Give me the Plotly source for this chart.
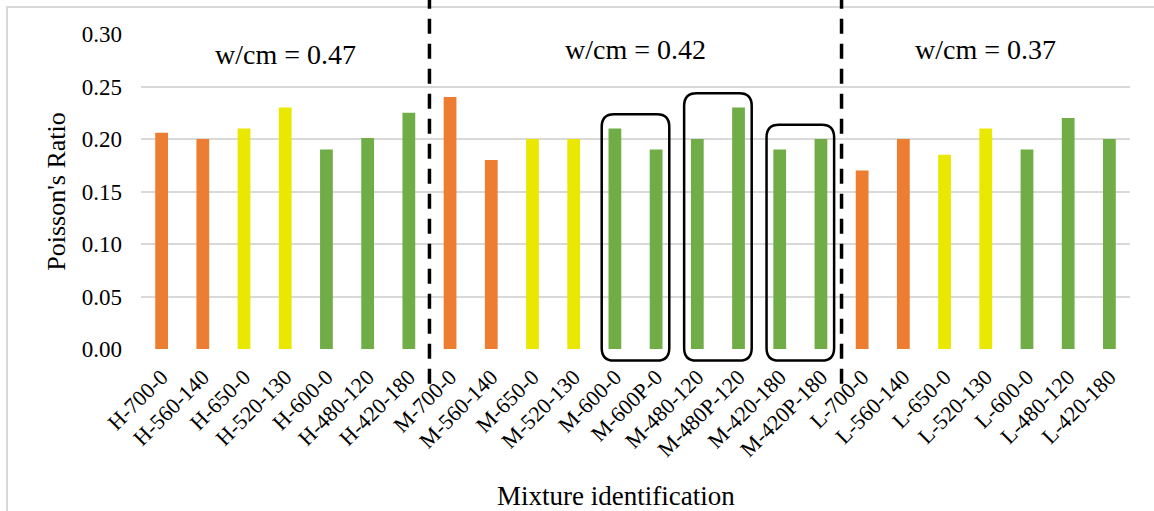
import plotly.graph_objects as go

# ---- data ----
groups = ["w/cm = 0.47", "w/cm = 0.42", "w/cm = 0.37"]
group_mixes = [
    ["H-700-0", "H-560-140", "H-650-0", "H-520-130", "H-600-0", "H-480-120", "H-420-180"],
    ["M-700-0", "M-560-140", "M-650-0", "M-520-130", "M-600-0", "M-600P-0",
     "M-480-120", "M-480P-120", "M-420-180", "M-420P-180"],
    ["L-700-0", "L-560-140", "L-650-0", "L-520-130", "L-600-0", "L-480-120", "L-420-180"],
]
group_values = [
    [0.206, 0.200, 0.210, 0.230, 0.190, 0.201, 0.225],
    [0.240, 0.180, 0.200, 0.200, 0.210, 0.190, 0.200, 0.230, 0.190, 0.200],
    [0.170, 0.200, 0.185, 0.210, 0.190, 0.220, 0.200],
]
highlight_pairs = [("M-600-0", "M-600P-0"), ("M-480-120", "M-480P-120"), ("M-420-180", "M-420P-180")]
y_ticks = [0.00, 0.05, 0.10, 0.15, 0.20, 0.25, 0.30]

# ---- styles ----
ORANGE, YELLOW, GREEN = "#ED7D31", "#EAE700", "#70AD47"
FONT = "Liberation Serif"
GRID = "#d9d9d9"
Y_MAX = 0.30


def mix_color(name):
    tail = name.split("-", 1)[1]
    if tail in ("700-0", "560-140"):
        return ORANGE
    if tail in ("650-0", "520-130"):
        return YELLOW
    return GREEN


categories = [m for g in group_mixes for m in g]
values = [v for g in group_values for v in g]
idx = list(range(len(categories)))
colors = [mix_color(c) for c in categories]

fig = go.Figure()
fig.add_trace(go.Bar(x=idx, y=values, marker=dict(color=colors, line=dict(width=0)),
                     width=0.31, hovertext=categories, showlegend=False))

shapes = []
annotations = []

# group separators and group labels
start = 0
for gi, g in enumerate(group_mixes):
    end = start + len(g) - 1
    annotations.append(dict(x=(start + end) / 2, y=(0.2805 if gi == 0 else 0.285),
                            xref="x", yref="y", text=groups[gi], showarrow=False,
                            font=dict(family=FONT, size=28, color="#000"),
                            xanchor="center", yanchor="middle"))
    if gi < len(group_mixes) - 1:
        shapes.append(dict(type="line", xref="x", yref="paper", x0=end + 0.5, x1=end + 0.5,
                           y0=-0.11, y1=1.115,
                           line=dict(color="#000", width=3.5, dash="15px,10px")))
    start = end + 1


def rounded_path(x0, x1, y0, y1, rx, ry):
    return (f"M {x0 + rx},{y0} L {x1 - rx},{y0} Q {x1},{y0} {x1},{y0 + ry} "
            f"L {x1},{y1 - ry} Q {x1},{y1} {x1 - rx},{y1} L {x0 + rx},{y1} "
            f"Q {x0},{y1} {x0},{y1 - ry} L {x0},{y0 + ry} Q {x0},{y0} {x0 + rx},{y0} Z")


for a, b in highlight_pairs:
    i0, i1 = categories.index(a), categories.index(b)
    top = (max(values[i0], values[i1]) + 0.0135) / Y_MAX
    bot = -0.011 / Y_MAX
    shapes.append(dict(type="path", xref="x", yref="paper",
                       path=rounded_path(i0 - 0.32, i1 + 0.32, bot, top, 0.3, 0.04),
                       line=dict(color="#000", width=2.5), fillcolor="rgba(0,0,0,0)"))

# chart-area border (only left and top visible in the frame)
shapes.append(dict(type="rect", xref="paper", yref="paper", x0=-0.1355, x1=1.04,
                   y0=-0.6, y1=1.0855, line=dict(color=GRID, width=2),
                   fillcolor="rgba(0,0,0,0)", layer="below"))

annotations.append(dict(x=0.48, y=-0.468, xref="paper", yref="paper",
                        text="Mixture identification", showarrow=False,
                        font=dict(family=FONT, size=27, color="#000"),
                        xanchor="center", yanchor="middle"))

fig.update_layout(
    width=1154, height=511,
    margin=dict(l=141, r=24, t=34, b=162),
    paper_bgcolor="white", plot_bgcolor="white",
    font=dict(family=FONT, color="#000"),
    shapes=shapes, annotations=annotations,
    bargap=0.69,
    xaxis=dict(range=[-0.5, len(categories) - 0.5], tickmode="array", tickvals=idx,
               ticktext=categories, tickangle=-45, showgrid=False, zeroline=False,
               showline=False, ticks="", tickfont=dict(family=FONT, size=22, color="#000"),
               ticklabelstandoff=10),
    yaxis=dict(range=[0, Y_MAX], tickmode="array", tickvals=y_ticks,
               ticktext=[f"{t:.2f}" for t in y_ticks], showgrid=True, gridcolor=GRID,
               gridwidth=1.5, zeroline=False, showline=False, ticks="",
               tickfont=dict(family=FONT, size=23, color="#000"), ticklabelstandoff=18,
               title=dict(text="Poisson's Ratio", font=dict(family=FONT, size=26, color="#000"),
                          standoff=8)),
)

fig.write_html("out.html")
